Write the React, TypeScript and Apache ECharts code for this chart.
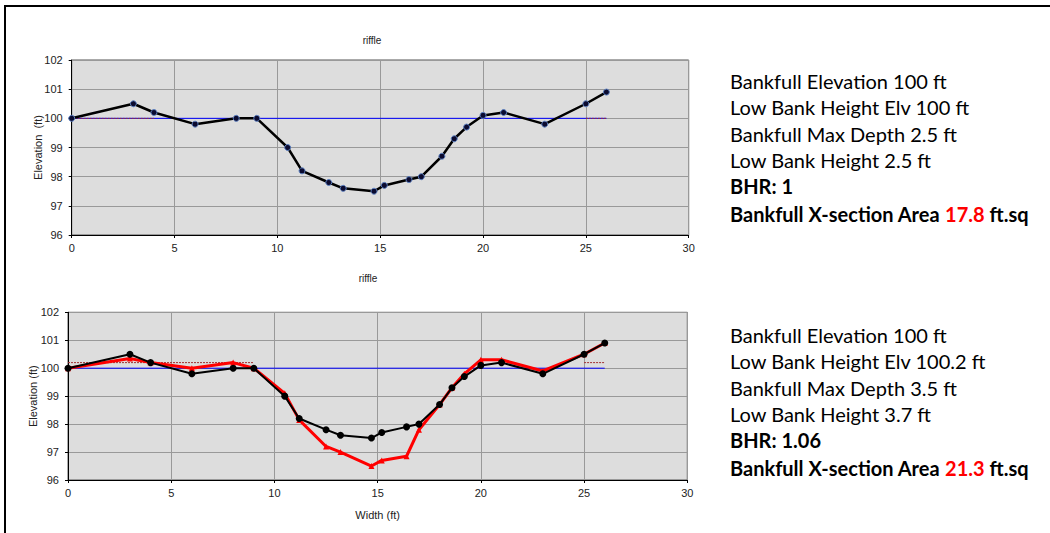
import React, { useEffect, useRef } from "react";
import * as echarts from "echarts";

// Cross-section stations (ft) and elevations (ft)
const stations = [0, 3, 4, 6, 8, 9, 10.5, 11.2, 12.5, 13.2, 14.7, 15.2, 16.4, 17, 18, 18.6, 19.2, 20, 21, 23, 25, 26];
const surveyElev = [100, 100.5, 100.2, 99.8, 100, 100, 99, 98.2, 97.8, 97.6, 97.5, 97.7, 97.9, 98, 98.7, 99.3, 99.7, 100.1, 100.2, 99.8, 100.5, 100.9];
const resurveyElev = [100, 100.35, 100.2, 100, 100.2, 100, 99.1, 98.15, 97.2, 97.0, 96.5, 96.7, 96.85, 97.8, 98.7, 99.3, 99.8, 100.3, 100.3, 99.9, 100.5, 100.9];

// Bankfull line (station range and elevation)
const bankfullStations = [0, 26];
const bankfullElev = 100;

// Low-bank-height dotted segments: [start, end] station pairs
const lowBankTopSegments = [[0, 4], [25, 26]];
const lowBankTopElev = 100;
const lowBankBottomSegments = [[0, 9], [25, 26]];
const lowBankBottomElev = 100.2;

// Axes
const xMin = 0, xMax = 30, xStep = 5;
const yMin = 96, yMax = 102, yStep = 1;

const chartTitle = "riffle";
const yAxisName = "Elevation  (ft)";
const yAxisName2 = "Elevation (ft)";
const xAxisName = "Width (ft)";

// Info panel lines
const topInfo = [
  "Bankfull Elevation 100 ft",
  "Low Bank Height Elv 100 ft",
  "Bankfull Max Depth 2.5 ft",
  "Low Bank Height 2.5 ft",
];
const topBHR = "BHR: 1";
const topArea = "17.8";
const bottomInfo = [
  "Bankfull Elevation 100 ft",
  "Low Bank Height Elv 100.2 ft",
  "Bankfull Max Depth 3.5 ft",
  "Low Bank Height 3.7 ft",
];
const bottomBHR = "BHR: 1.06";
const bottomArea = "21.3";

const AXIS_FONT = "'Liberation Sans', Arial, sans-serif";
const INFO_FONT = "Lato, 'Open Sans', sans-serif";
const INFO_SIZE = 20;

function segData(segs: number[][], elev: number) {
  const out: any[] = [];
  segs.forEach((s, i) => {
    if (i > 0) out.push([null, null]);
    out.push([s[0], elev]);
    out.push([s[1], elev]);
  });
  return out;
}

function xAxisCfg(gridIndex: number, withName: boolean) {
  return {
    type: "value",
    gridIndex,
    min: xMin,
    max: xMax,
    interval: xStep,
    name: withName ? xAxisName : "",
    nameLocation: "middle",
    nameGap: 29,
    nameMoveOverlap: false,
    nameTextStyle: { fontFamily: AXIS_FONT, fontSize: 11, color: "#222" },
    axisLine: { show: true, onZero: false, lineStyle: { color: "#000", width: 1 } },
    axisTick: { show: true, length: 3, lineStyle: { color: "#000" } },
    axisLabel: { margin: 7, fontFamily: AXIS_FONT, fontSize: 11, color: "#222" },
    splitLine: { show: true, lineStyle: { color: "#999", width: 1 } },
  };
}

function yAxisCfg(gridIndex: number, name: string, gap: number) {
  return {
    type: "value",
    gridIndex,
    min: yMin,
    max: yMax,
    interval: yStep,
    name,
    nameLocation: "middle",
    nameGap: gap,
    nameMoveOverlap: false,
    nameTextStyle: { fontFamily: AXIS_FONT, fontSize: 11, color: "#222" },
    axisLine: { show: true, lineStyle: { color: "#000", width: 1 } },
    axisTick: { show: true, length: 3, lineStyle: { color: "#000" } },
    axisLabel: { margin: 9, fontFamily: AXIS_FONT, fontSize: 11, color: "#222" },
    splitLine: { show: true, lineStyle: { color: "#999", width: 1 } },
  };
}

function infoGraphics(lines: string[], bhr: string, area: string, x: number, y0: number, step: number) {
  const els: any[] = [];
  lines.forEach((t, i) => {
    els.push({
      type: "text",
      x,
      y: y0 + i * step,
      style: { text: t, fill: "#000", fontSize: INFO_SIZE, fontFamily: INFO_FONT, verticalAlign: "middle" },
    });
  });
  els.push({
    type: "text",
    x,
    y: y0 + 4 * step,
    style: { text: bhr, fill: "#000", fontSize: INFO_SIZE, fontWeight: "bold", fontFamily: INFO_FONT, verticalAlign: "middle" },
  });
  els.push({
    type: "text",
    x,
    y: y0 + 5 * step + 1,
    style: {
      text: "Bankfull X-section Area {r|" + area + "} ft.sq",
      fill: "#000",
      fontSize: INFO_SIZE,
      fontWeight: "bold",
      fontFamily: INFO_FONT,
      verticalAlign: "middle",
      rich: { r: { fill: "#ff0000", fontSize: INFO_SIZE, fontWeight: "bold", fontFamily: INFO_FONT } },
    },
  });
  return els;
}

export default function App() {
  const ref = useRef<HTMLDivElement>(null);
  useEffect(() => {
    if (!ref.current) return;
    const chart = echarts.init(ref.current, null, { renderer: "svg" });
    const surveyPts = stations.map((s, i) => [s, surveyElev[i]]);
    const resurveyPts = stations.map((s, i) => [s, resurveyElev[i]]);
    const bankfullPts = bankfullStations.map((s) => [s, bankfullElev]);

    const option: any = {
      animation: false,
      backgroundColor: "#fff",
      grid: [
        {
          left: 71.7, right: 1050 - 688.7, top: 60, height: 175,
          show: true, backgroundColor: "#DDDDDD", borderColor: "#555", borderWidth: 1,
        },
        {
          left: 68, right: 1050 - 687.3, top: 312.3, height: 167.7,
          show: true, backgroundColor: "#DDDDDD", borderColor: "#555", borderWidth: 1,
        },
      ],
      xAxis: [xAxisCfg(0, false), xAxisCfg(1, true)],
      yAxis: [yAxisCfg(0, yAxisName, 28), yAxisCfg(1, yAxisName2, 30)],
      series: [
        // top chart
        {
          type: "line", xAxisIndex: 0, yAxisIndex: 0, data: bankfullPts, showSymbol: false,
          lineStyle: { color: "#0000ff", width: 1 }, z: 2, silent: true,
        },
        {
          type: "line", xAxisIndex: 0, yAxisIndex: 0, data: segData(lowBankTopSegments, lowBankTopElev),
          showSymbol: false, connectNulls: false,
          lineStyle: { color: "#a03030", width: 1, type: [2, 1] }, z: 3, silent: true,
        },
        {
          type: "line", xAxisIndex: 0, yAxisIndex: 0, data: surveyPts,
          symbol: "circle", symbolSize: 6,
          itemStyle: { color: "#0b0b30", borderColor: "#5b7fc0", borderWidth: 1 },
          lineStyle: { color: "#000", width: 2.5 }, z: 5,
        },
        // bottom chart
        {
          type: "line", xAxisIndex: 1, yAxisIndex: 1, data: bankfullPts, showSymbol: false,
          lineStyle: { color: "#0000ff", width: 1 }, z: 2, silent: true,
        },
        {
          type: "line", xAxisIndex: 1, yAxisIndex: 1, data: segData(lowBankBottomSegments, lowBankBottomElev),
          showSymbol: false, connectNulls: false,
          lineStyle: { color: "#a03030", width: 1, type: [2, 1] }, z: 3, silent: true,
        },
        {
          type: "line", xAxisIndex: 1, yAxisIndex: 1, data: resurveyPts,
          symbol: "triangle", symbolSize: 6,
          itemStyle: { color: "#ff0000" },
          lineStyle: { color: "#ff0000", width: 3 }, z: 4,
        },
        {
          type: "line", xAxisIndex: 1, yAxisIndex: 1, data: surveyPts,
          symbol: "circle", symbolSize: 7,
          itemStyle: { color: "#000" },
          lineStyle: { color: "#000", width: 2 }, z: 5,
        },
      ],
      graphic: [
        { type: "rect", shape: { x: 4, y: 5, width: 1046, height: 2 }, style: { fill: "#000" } },
        { type: "rect", shape: { x: 4, y: 5, width: 2, height: 528 }, style: { fill: "#000" } },
        {
          type: "text", x: 372, y: 40,
          style: { text: chartTitle, fontFamily: AXIS_FONT, fontSize: 10, fill: "#222", align: "center", verticalAlign: "middle" },
        },
        {
          type: "text", x: 368, y: 278,
          style: { text: chartTitle, fontFamily: AXIS_FONT, fontSize: 10, fill: "#222", align: "center", verticalAlign: "middle" },
        },
        ...infoGraphics(topInfo, topBHR, topArea, 730, 81, 26.3),
        ...infoGraphics(bottomInfo, bottomBHR, bottomArea, 730, 335, 26.3),
      ],
    };
    chart.setOption(option);
    return () => chart.dispose();
  }, []);
  return <div ref={ref} style={{ position: "fixed", left: 0, top: 0, width: 1050, height: 533 }} />;
}
